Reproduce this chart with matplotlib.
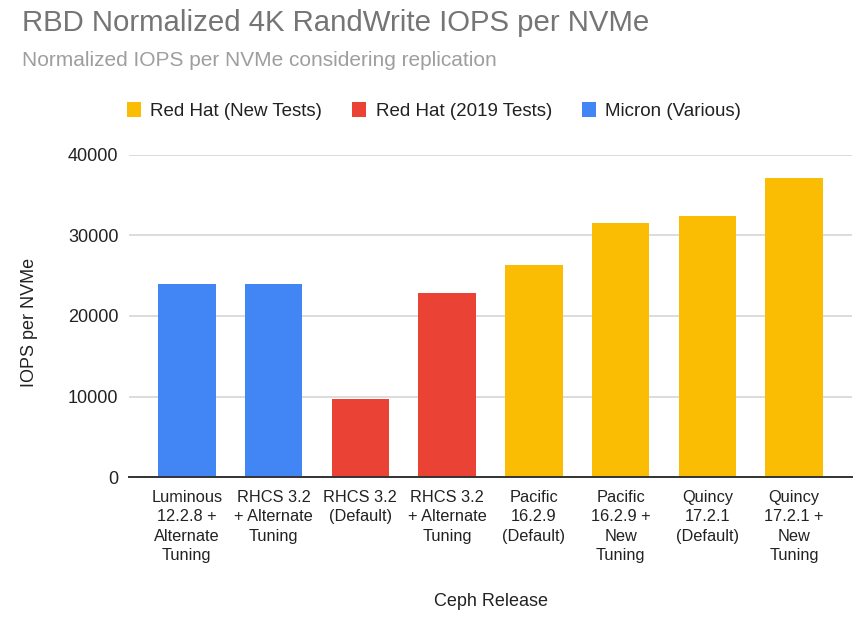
import matplotlib
matplotlib.use("Agg")
import matplotlib.pyplot as plt
from matplotlib.patches import Patch

categories = [
    "Luminous\n12.2.8 +\nAlternate\nTuning",
    "RHCS 3.2\n+ Alternate\nTuning",
    "RHCS 3.2\n(Default)",
    "RHCS 3.2\n+ Alternate\nTuning",
    "Pacific\n16.2.9\n(Default)",
    "Pacific\n16.2.9 +\nNew\nTuning",
    "Quincy\n17.2.1\n(Default)",
    "Quincy\n17.2.1 +\nNew\nTuning",
]
values = [24000, 24000, 9750, 22800, 26300, 31500, 32400, 37100]
groups = ["Micron (Various)", "Micron (Various)", "Red Hat (2019 Tests)", "Red Hat (2019 Tests)",
          "Red Hat (New Tests)", "Red Hat (New Tests)", "Red Hat (New Tests)", "Red Hat (New Tests)"]
legend_order = ["Red Hat (New Tests)", "Red Hat (2019 Tests)", "Micron (Various)"]
colors = {"Red Hat (New Tests)": "#FBBC04", "Red Hat (2019 Tests)": "#EA4335", "Micron (Various)": "#4285F4"}
yticks = [0, 10000, 20000, 30000, 40000]

plt.rcParams['font.family'] = ['Liberation Sans', 'DejaVu Sans']

W, H = 856, 629
fig = plt.figure(figsize=(W / 100, H / 100), dpi=100)
ax = fig.add_axes([129 / W, 1 - 477.3 / H, (852 - 129) / W, (477.3 - 154.7) / H])

x = list(range(len(categories)))
ax.bar(x, values, width=0.665, color=[colors[g] for g in groups], zorder=3)
ax.set_xlim(-0.667, len(categories) - 1 + 0.667)
ax.set_ylim(0, 40000)
ax.set_yticks(yticks)
ax.set_yticklabels([str(v) for v in yticks], fontsize=13, color="#222222")
ax.set_xticks(x)
ax.set_xticklabels(categories, fontsize=11.8, color="#222222", linespacing=1.38)
ax.tick_params(axis='both', length=0)
ax.tick_params(axis='y', pad=7.5)
ax.tick_params(axis='x', pad=9)
ax.yaxis.grid(True, color="#d9d9d9", linewidth=1.3, zorder=0)
for s in ["top", "right", "left"]:
    ax.spines[s].set_visible(False)
ax.spines["bottom"].set_color("#333333")
ax.spines["bottom"].set_linewidth(1.4)
ax.spines["bottom"].set_zorder(4)

ax.set_ylabel("IOPS per NVMe", fontsize=13, color="#222222", labelpad=0)
ax.yaxis.set_label_coords((30 - 129) / (852 - 129), (477.3 - 322) / (477.3 - 154.7))
ax.yaxis.label.set_va("center")
ax.set_xlabel("Ceph Release", fontsize=13, color="#222222")
ax.xaxis.set_label_coords(0.5, (477.3 - 601) / (477.3 - 154.7))
ax.xaxis.label.set_va("center")

fig.text(22 / W, 1 - 23 / H, "RBD Normalized 4K RandWrite IOPS per NVMe", fontsize=21.2,
         color="#757575", ha="left", va="center")
fig.text(22 / W, 1 - 60 / H, "Normalized IOPS per NVMe considering replication", fontsize=15,
         color="#9e9e9e", ha="left", va="center")

handles = [Patch(facecolor=colors[g], edgecolor="none", label=g) for g in legend_order]
fig.legend(handles=handles, loc="center left", bbox_to_anchor=(127 / W, 1 - 111 / H), ncol=3,
           frameon=False, fontsize=13.5, handlelength=0.72, handleheight=0.85,
           handletextpad=0.53, columnspacing=1.6, borderaxespad=0, borderpad=0,
           labelcolor="#222222")

fig.savefig("out.png", dpi=100)
